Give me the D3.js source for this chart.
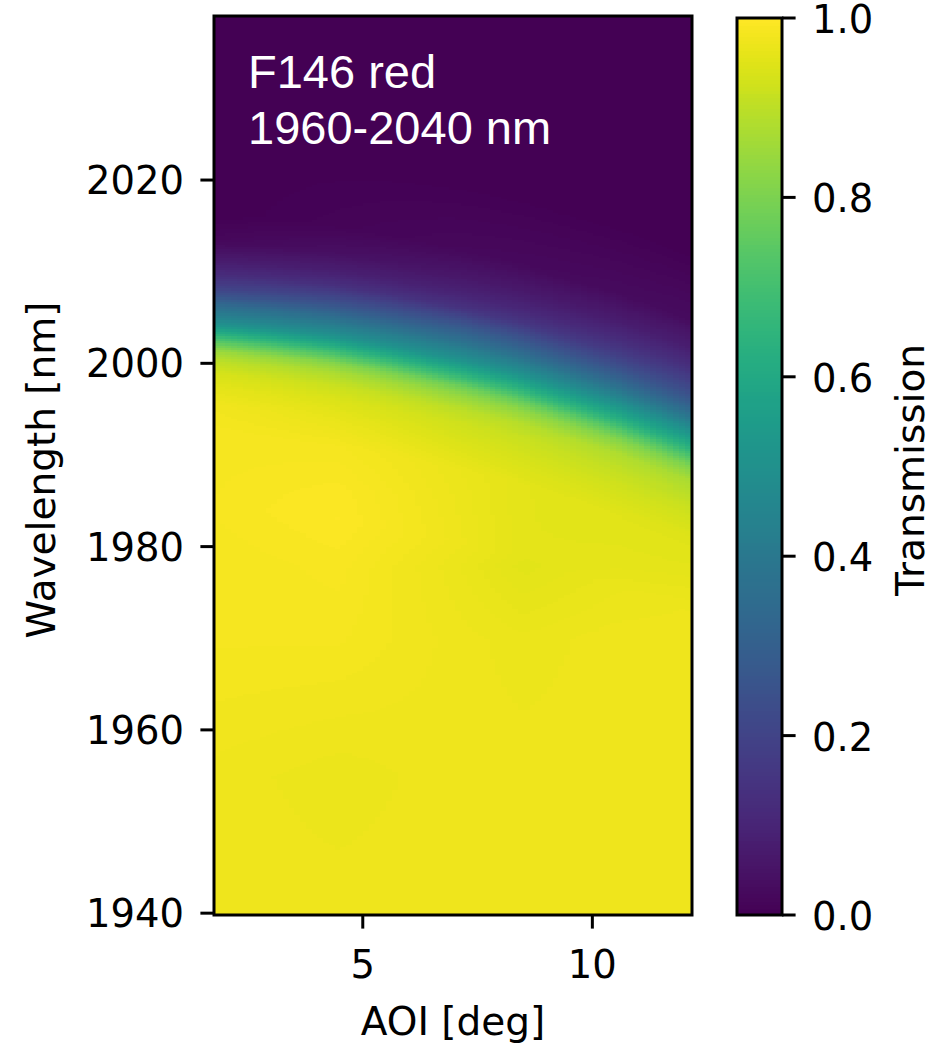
<!DOCTYPE html>
<html>
<head>
<meta charset="utf-8">
<script src="https://cdn.jsdelivr.net/npm/d3@7"></script>
<style>
  html, body { margin: 0; padding: 0; background: #fff; }
  svg { display: block; }
  .tick-label { font-family: "DejaVu Sans", sans-serif; font-size: 38.5px; fill: #000; }
  .axis-label { font-family: "DejaVu Sans", sans-serif; font-size: 39px; fill: #000; }
  .note { font-family: "Liberation Sans", Arial, sans-serif; font-size: 47px; fill: #fff; }
</style>
</head>
<body>
<script>
// tick labels
const xTicks = [5, 10];
const yTicks = [1940, 1960, 1980, 2000, 2020];
const cTicks = [0.0, 0.2, 0.4, 0.6, 0.8, 1.0];

// 50% point of the edge, read along the AOI axis
const edgeAoiDeg = [1.8, 3, 4.3, 5.5, 7.1, 8.3, 9.5, 10.6, 11.7, 12.2];
const edgeNm = [2004.4, 2003.9, 2003.2, 2002.2, 2000.6, 1999.2, 1997.4, 1995.7, 1993.7, 1992.7];

// transmission across the edge (offset from the 50% point, nm), at three AOIs
const profileOffsetNm = [-20, -12, -9, -7, -5.5, -4, -3, -2, -1, 0, 1, 2, 3, 4, 5.5, 7, 9, 12, 20];
const profileAoiDeg = [1.8, 7.1, 11.7];
const profileLowAoi = [1.0, 0.99, 0.98, 0.96, 0.94, 0.9, 0.85, 0.75, 0.62, 0.5, 0.42, 0.35, 0.26, 0.19, 0.12, 0.07, 0.02, 0.0, 0.0];
const profileMidAoi = [1.0, 0.98, 0.95, 0.93, 0.9, 0.84, 0.78, 0.68, 0.59, 0.5, 0.44, 0.37, 0.31, 0.25, 0.15, 0.1, 0.06, 0.02, 0.0];
const profileHighAoi = [1.0, 0.98, 0.95, 0.92, 0.89, 0.82, 0.74, 0.65, 0.57, 0.5, 0.42, 0.35, 0.29, 0.24, 0.18, 0.13, 0.08, 0.03, 0.0];

// slight ripple of the pass band
const plateauAoiDeg = [1.8, 4.5, 7, 8.5, 10.5, 12.2];
const plateauNm = [1940, 1955, 1970, 1978, 1986, 1996, 2038];
const plateauRows = [
  [0.975, 0.975, 0.975, 0.975, 0.975, 0.975],
  [0.975, 0.97, 0.975, 0.975, 0.975, 0.975],
  [0.985, 0.985, 0.975, 0.97, 0.975, 0.975],
  [0.985, 0.99, 0.97, 0.955, 0.965, 0.97],
  [0.99, 1.0, 0.985, 0.975, 0.975, 0.975],
  [1.0, 1.0, 1.0, 1.0, 1.0, 1.0],
  [1.0, 1.0, 1.0, 1.0, 1.0, 1.0]
];

const aoiDomain = [1.76, 12.17];
const nmDomain = [1939.8, 2037.9];

const W = 948, H = 1044;
const plot = { left: 214, right: 692, top: 16, bottom: 915 };
const cbar = { left: 737, right: 782, top: 18, bottom: 915 };
const tickLen = 13.6, lineW = 3;

const svg = d3.select('body').append('svg')
  .attr('width', W)
  .attr('height', H);

const x = d3.scaleLinear().domain(aoiDomain).range([plot.left, plot.right]);
const y = d3.scaleLinear().domain(nmDomain).range([plot.bottom, plot.top]);
const color = d3.scaleSequential(d3.interpolateViridis).domain([0, 1]);

const edgeAt = d3.scaleLinear().domain(edgeAoiDeg).range(edgeNm).clamp(true);

function profileAt(aoi) {
  const vals = profileOffsetNm.map(function(d, i) {
    return d3.scaleLinear().domain(profileAoiDeg)
      .range([profileLowAoi[i], profileMidAoi[i], profileHighAoi[i]]).clamp(true)(aoi);
  });
  return d3.scaleLinear().domain(profileOffsetNm).range(vals).clamp(true);
}

function plateauAt(aoi) {
  const col = plateauRows.map(function(row) {
    return d3.scaleLinear().domain(plateauAoiDeg).range(row).clamp(true)(aoi);
  });
  return d3.scaleLinear().domain(plateauNm).range(col).clamp(true);
}

// heatmap cells
const stepAoi = 0.125, stepNm = 0.25;
const cols = d3.range(aoiDomain[0], aoiDomain[1], stepAoi);
const rows = d3.range(nmDomain[0], nmDomain[1], stepNm);
const cells = [];
cols.forEach(function(a) {
  const ac = a + stepAoi / 2;
  const prof = profileAt(ac), plat = plateauAt(ac), edge = edgeAt(ac);
  rows.forEach(function(n) {
    const nc = n + stepNm / 2;
    const t = Math.max(0, Math.min(1, prof(nc - edge) * plat(nc)));
    cells.push({ a: a, n: n, t: t });
  });
});

svg.append('clipPath').attr('id', 'plot-clip')
  .append('rect')
  .attr('x', plot.left).attr('y', plot.top)
  .attr('width', plot.right - plot.left).attr('height', plot.bottom - plot.top);

svg.append('g')
  .attr('clip-path', 'url(#plot-clip)')
  .attr('shape-rendering', 'crispEdges')
  .selectAll('rect')
  .data(cells)
  .join('rect')
  .attr('x', d => x(d.a))
  .attr('y', d => y(d.n + stepNm))
  .attr('width', d => x(d.a + stepAoi) - x(d.a) + 1)
  .attr('height', d => y(d.n) - y(d.n + stepNm) + 1)
  .attr('fill', d => color(d.t));

// frame
svg.append('rect')
  .attr('x', plot.left).attr('y', plot.top)
  .attr('width', plot.right - plot.left).attr('height', plot.bottom - plot.top)
  .attr('fill', 'none').attr('stroke', '#000').attr('stroke-width', lineW);

// x ticks
const xg = svg.append('g');
xg.selectAll('line').data(xTicks).join('line')
  .attr('x1', d => x(d)).attr('x2', d => x(d))
  .attr('y1', plot.bottom).attr('y2', plot.bottom + tickLen)
  .attr('stroke', '#000').attr('stroke-width', lineW);
xg.selectAll('text').data(xTicks).join('text')
  .attr('class', 'tick-label')
  .attr('x', d => x(d)).attr('y', 978)
  .attr('text-anchor', 'middle')
  .text(d => d);

// y ticks
const yg = svg.append('g');
yg.selectAll('line').data(yTicks).join('line')
  .attr('x1', plot.left - tickLen).attr('x2', plot.left)
  .attr('y1', d => y(d)).attr('y2', d => y(d))
  .attr('stroke', '#000').attr('stroke-width', lineW);
yg.selectAll('text').data(yTicks).join('text')
  .attr('class', 'tick-label')
  .attr('x', 184).attr('y', d => y(d) + 14)
  .attr('text-anchor', 'end')
  .text(d => d);

svg.append('text').attr('class', 'axis-label')
  .attr('x', 453).attr('y', 1035)
  .attr('text-anchor', 'middle')
  .text('AOI [deg]');

svg.append('text').attr('class', 'axis-label')
  .attr('transform', 'translate(55,470) rotate(-90)')
  .attr('text-anchor', 'middle')
  .text('Wavelength [nm]');

// annotation
svg.append('text').attr('class', 'note').attr('x', 248).attr('y', 88).text('F146 red');
svg.append('text').attr('class', 'note').attr('x', 248).attr('y', 144).text('1960-2040 nm');

// colorbar
const cy = d3.scaleLinear().domain([0, 1]).range([cbar.bottom, cbar.top]);
const cStep = 0.004;
svg.append('g')
  .attr('shape-rendering', 'crispEdges')
  .selectAll('rect')
  .data(d3.range(0, 1, cStep))
  .join('rect')
  .attr('x', cbar.left).attr('width', cbar.right - cbar.left)
  .attr('y', d => cy(d + cStep))
  .attr('height', d => cy(d) - cy(d + cStep) + 1)
  .attr('fill', d => color(d + cStep / 2));

svg.append('rect')
  .attr('x', cbar.left).attr('y', cbar.top)
  .attr('width', cbar.right - cbar.left).attr('height', cbar.bottom - cbar.top)
  .attr('fill', 'none').attr('stroke', '#000').attr('stroke-width', lineW);

const cg = svg.append('g');
cg.selectAll('line').data(cTicks).join('line')
  .attr('x1', cbar.right).attr('x2', cbar.right + tickLen)
  .attr('y1', d => cy(d)).attr('y2', d => cy(d))
  .attr('stroke', '#000').attr('stroke-width', lineW);
cg.selectAll('text').data(cTicks).join('text')
  .attr('class', 'tick-label')
  .attr('x', 812).attr('y', d => cy(d) + 15)
  .text(d => d.toFixed(1));

svg.append('text').attr('class', 'axis-label')
  .attr('transform', 'translate(924,470) rotate(-90)')
  .attr('text-anchor', 'middle')
  .text('Transmission');
</script>
</body>
</html>
